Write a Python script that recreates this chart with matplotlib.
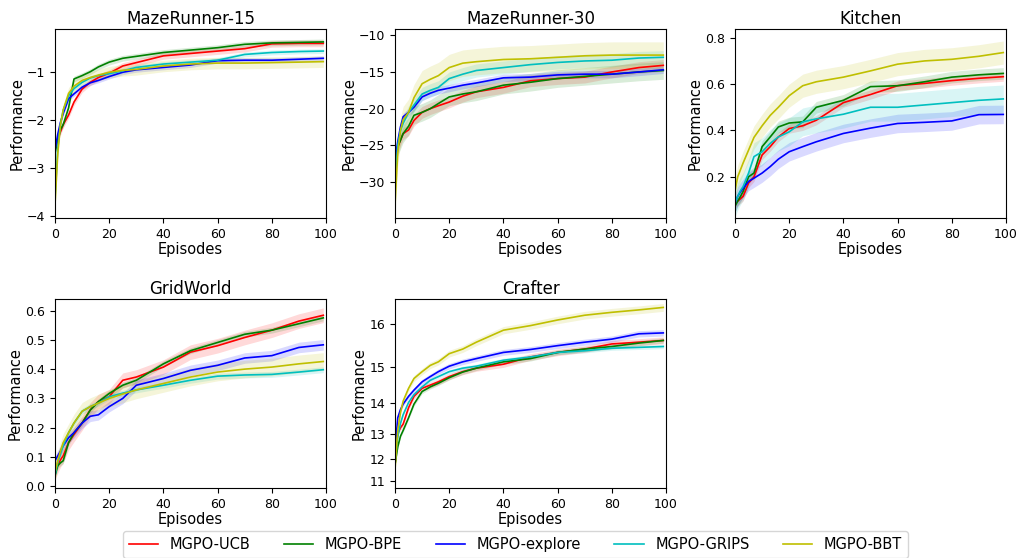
import numpy as np
import matplotlib
matplotlib.use("Agg")
import matplotlib.pyplot as plt

# ---------------------------------------------------------------- data
episodes = [0, 1, 2, 3, 5, 7, 10, 13, 16, 20, 25, 30, 40, 50, 60, 70, 80, 90, 99]
methods = ["MGPO-UCB", "MGPO-BPE", "MGPO-explore", "MGPO-GRIPS", "MGPO-BBT"]
colors = ["r", "g", "b", "c", "y"]

# MazeRunner-15
maze15_ucb = [-2.6, -2.4, -2.25, -2.1, -1.9, -1.63, -1.36, -1.22, -1.12, -1.03, -0.88, -0.81, -0.67, -0.62, -0.57, -0.52, -0.42, -0.41, -0.41]
maze15_bpe = [-2.7, -2.4, -2.2, -2.1, -1.75, -1.15, -1.08, -1.0, -0.9, -0.8, -0.72, -0.68, -0.60, -0.55, -0.50, -0.43, -0.40, -0.39, -0.38]
maze15_explore = [-2.62, -2.3, -2.05, -1.87, -1.56, -1.46, -1.32, -1.23, -1.18, -1.10, -1.01, -0.96, -0.91, -0.86, -0.77, -0.76, -0.76, -0.74, -0.72]
maze15_grips = [-3.6, -2.6, -2.1, -1.8, -1.5, -1.35, -1.22, -1.13, -1.08, -1.04, -0.98, -0.91, -0.84, -0.80, -0.76, -0.64, -0.60, -0.58, -0.57]
maze15_bbt = [-3.75, -2.7, -2.1, -1.8, -1.45, -1.3, -1.18, -1.12, -1.07, -1.01, -0.97, -0.95, -0.88, -0.84, -0.82, -0.82, -0.81, -0.80, -0.79]
maze15_band = [0.07, 0.06, 0.05, 0.05, 0.12]

# MazeRunner-30
maze30_ucb = [-27, -25.2, -24.3, -23.4, -22.9, -21.6, -20.5, -20.0, -19.6, -19.1, -18.3, -17.7, -17.1, -16.2, -15.9, -15.7, -15.0, -14.4, -14.1]
maze30_bpe = [-27, -25.2, -24.3, -23.4, -22.4, -20.9, -20.5, -20.0, -19.3, -18.4, -18.0, -17.7, -16.8, -16.4, -15.9, -15.6, -15.3, -15.0, -14.8]
maze30_explore = [-27, -24.5, -22.5, -21.1, -20.5, -19.8, -18.4, -17.9, -17.5, -17.2, -16.8, -16.5, -15.8, -15.7, -15.4, -15.3, -15.3, -15.0, -14.7]
maze30_grips = [-30, -25, -23, -22, -20.5, -19.5, -18.0, -17.5, -17.1, -15.9, -15.3, -14.8, -14.4, -14.0, -13.7, -13.5, -13.4, -13.1, -13.0]
maze30_bbt = [-33, -26, -23, -21.5, -20.5, -18.5, -16.6, -16.0, -15.5, -14.4, -13.8, -13.6, -13.3, -13.2, -13.0, -12.8, -12.7, -12.7, -12.7]
maze30_band = [0.8, 1.2, 0.5, 0.9, 1.8]

# Kitchen
kitchen_ucb = [0.087, 0.095, 0.105, 0.116, 0.173, 0.20, 0.294, 0.33, 0.372, 0.408, 0.42, 0.444, 0.52, 0.555, 0.593, 0.603, 0.615, 0.625, 0.632]
kitchen_bpe = [0.073, 0.095, 0.115, 0.137, 0.20, 0.216, 0.33, 0.372, 0.415, 0.432, 0.437, 0.50, 0.53, 0.589, 0.593, 0.61, 0.63, 0.64, 0.646]
kitchen_explore = [0.087, 0.116, 0.135, 0.15, 0.18, 0.194, 0.216, 0.244, 0.276, 0.308, 0.33, 0.351, 0.387, 0.41, 0.43, 0.435, 0.441, 0.468, 0.469]
kitchen_grips = [0.087, 0.116, 0.14, 0.158, 0.216, 0.287, 0.308, 0.344, 0.372, 0.394, 0.437, 0.45, 0.47, 0.50, 0.50, 0.51, 0.52, 0.53, 0.536]
kitchen_bbt = [0.14, 0.20, 0.23, 0.26, 0.315, 0.37, 0.42, 0.465, 0.50, 0.55, 0.593, 0.61, 0.63, 0.657, 0.686, 0.70, 0.707, 0.72, 0.736]
kitchen_band = [0.02, 0.025, 0.04, 0.06, 0.05]

# GridWorld
grid_ucb = [0.048, 0.07, 0.09, 0.104, 0.149, 0.177, 0.216, 0.261, 0.289, 0.306, 0.362, 0.373, 0.407, 0.458, 0.48, 0.508, 0.533, 0.564, 0.584]
grid_bpe = [0.037, 0.07, 0.08, 0.087, 0.149, 0.183, 0.216, 0.26, 0.289, 0.317, 0.345, 0.362, 0.418, 0.463, 0.491, 0.519, 0.533, 0.555, 0.575]
grid_explore = [0.087, 0.104, 0.12, 0.138, 0.166, 0.183, 0.216, 0.239, 0.244, 0.272, 0.30, 0.345, 0.368, 0.396, 0.413, 0.438, 0.446, 0.474, 0.483]
grid_grips = [0.037, 0.082, 0.11, 0.138, 0.183, 0.216, 0.256, 0.272, 0.284, 0.306, 0.318, 0.329, 0.345, 0.362, 0.376, 0.38, 0.382, 0.39, 0.398]
grid_bbt = [0.048, 0.087, 0.12, 0.149, 0.183, 0.216, 0.256, 0.272, 0.284, 0.30, 0.315, 0.329, 0.351, 0.373, 0.39, 0.40, 0.407, 0.418, 0.426]
grid_band = [0.025, 0.01, 0.018, 0.01, 0.03]

# Crafter
crafter_ucb = [11.78, 13.0, 13.2, 13.33, 13.86, 14.20, 14.43, 14.52, 14.61, 14.75, 14.88, 14.97, 15.07, 15.25, 15.36, 15.44, 15.56, 15.60, 15.64]
crafter_bpe = [11.78, 12.5, 12.9, 13.11, 13.54, 13.97, 14.34, 14.47, 14.57, 14.72, 14.87, 14.97, 15.13, 15.21, 15.36, 15.44, 15.50, 15.58, 15.64]
crafter_explore = [12.37, 13.54, 13.8, 13.97, 14.20, 14.38, 14.61, 14.75, 14.88, 15.02, 15.13, 15.21, 15.36, 15.43, 15.52, 15.60, 15.67, 15.79, 15.81]
crafter_grips = [11.85, 12.88, 13.35, 13.64, 14.02, 14.25, 14.47, 14.65, 14.75, 14.88, 14.97, 15.02, 15.17, 15.25, 15.36, 15.40, 15.46, 15.48, 15.50]
crafter_bbt = [11.55, 13.11, 13.7, 14.06, 14.43, 14.70, 14.88, 15.04, 15.13, 15.33, 15.44, 15.60, 15.87, 15.97, 16.09, 16.19, 16.25, 16.30, 16.35]
crafter_band = [0.08, 0.06, 0.07, 0.05, 0.08]

tasks = [
    ("MazeRunner-15", [maze15_ucb, maze15_bpe, maze15_explore, maze15_grips, maze15_bbt], maze15_band, (-4.04, -0.12)),
    ("MazeRunner-30", [maze30_ucb, maze30_bpe, maze30_explore, maze30_grips, maze30_bbt], maze30_band, (-34.9, -9.2)),
    ("Kitchen", [kitchen_ucb, kitchen_bpe, kitchen_explore, kitchen_grips, kitchen_bbt], kitchen_band, (0.022, 0.836)),
    ("GridWorld", [grid_ucb, grid_bpe, grid_explore, grid_grips, grid_bbt], grid_band, (-0.006, 0.638)),
    ("Crafter", [crafter_ucb, crafter_bpe, crafter_explore, crafter_grips, crafter_bbt], crafter_band, (10.63, 16.51)),
]

# ---------------------------------------------------------------- layout
fig = plt.figure(figsize=(10.21, 5.58), dpi=100)
lefts = [0.0539, 0.3869, 0.7199]
bottoms = [0.6093, 0.1254]
W, H = 0.2654, 0.338

x = np.array(episodes)
for i, (title, series, bands, ylim) in enumerate(tasks):
    ax = fig.add_axes([lefts[i % 3], bottoms[i // 3], W, H])
    if title == "Crafter":
        # the Crafter panel uses a stretched (exponential) y scale
        ax.set_yscale("function", functions=(lambda v: np.exp(0.17 * v),
                                             lambda t: np.log(t) / 0.17))
        ax.set_yticks([11, 12, 13, 14, 15, 16])
    for y, col, band, name in zip(series, colors, bands, methods):
        y = np.array(y)
        ax.fill_between(x, y - band, y + band, color=col, alpha=0.15, lw=0)
        ax.plot(x, y, color=col, lw=1.2, label=name)
    ax.set_xlim(0, 100)
    ax.set_ylim(*ylim)
    ax.set_xticks([0, 20, 40, 60, 80, 100])
    ax.set_title(title, fontsize=12, pad=4)
    ax.set_xlabel("Episodes", fontsize=10.5, labelpad=1)
    ax.set_ylabel("Performance", fontsize=10.5, labelpad=2)
    ax.tick_params(labelsize=9)
    if i == 0:
        handles, labels = ax.get_legend_handles_labels()

fig.legend(handles, labels, loc="lower center", ncol=5, fontsize=10.5,
           bbox_to_anchor=(0.505, -0.013), columnspacing=2.3)

fig.savefig("out.png", dpi=100)
